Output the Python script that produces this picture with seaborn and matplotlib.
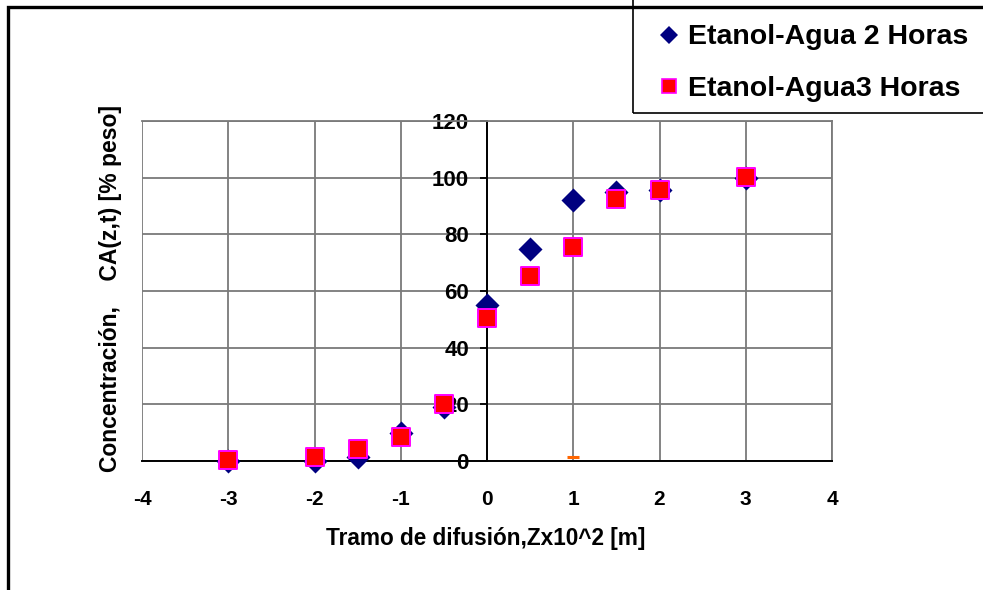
import matplotlib
matplotlib.use("Agg")
import matplotlib.pyplot as plt
import seaborn as sns
import pandas as pd
from matplotlib.patches import Rectangle
from matplotlib.lines import Line2D

# ---- data ----
tramo = [-3, -2, -1.5, -1, -0.5, 0, 0.5, 1, 1.5, 2, 3]
horas2 = [0, 0, 1.5, 10, 19, 55, 75, 92, 95, 95.5, 100]
horas3 = [0.5, 1.5, 4.2, 8.6, 20, 50.5, 65.3, 75.5, 92.5, 95.8, 100.3]
extra_x = [1]
extra_y = [1.5]
label2 = "Etanol-Agua 2 Horas"
label3 = "Etanol-Agua3 Horas"
x_ticks = [-4, -3, -2, -1, 0, 1, 2, 3, 4]
y_ticks = [0, 20, 40, 60, 80, 100, 120]
xlabel = "Tramo de difusión,Zx10^2 [m]"
ylabel = "Concentración,    CA(z,t) [% peso]"

sns.set_style("white")
plt.rcParams['font.family'] = ['Liberation Sans', 'DejaVu Sans']
plt.rcParams['font.weight'] = 'bold'
plt.rcParams['axes.unicode_minus'] = False

W, H = 983, 590
fig = plt.figure(figsize=(W / 100, H / 100), dpi=100)
ax = fig.add_axes([142 / W, 1 - 461 / H, 690 / W, 340 / H])

df2 = pd.DataFrame({"x": tramo, "y": horas2})
df3 = pd.DataFrame({"x": tramo, "y": horas3})
dfe = pd.DataFrame({"x": extra_x, "y": extra_y})

sns.scatterplot(data=df2, x="x", y="y", ax=ax, marker="D", s=150, color="#000080",
                edgecolor="#000080", linewidth=0, clip_on=False, zorder=3, legend=False)
sns.scatterplot(data=df3, x="x", y="y", ax=ax, marker="s", s=175, color="#FF0000",
                edgecolor="#FF00FF", linewidth=1.4, clip_on=False, zorder=4, legend=False)
sns.scatterplot(data=dfe, x="x", y="y", ax=ax, marker="_", s=75, color="#FF6600",
                linewidth=2.2, clip_on=False, zorder=4, legend=False)

ax.set_xlim(-4, 4)
ax.set_ylim(0, 120)
ax.set_xticks(x_ticks)
ax.set_yticks(y_ticks)
ax.grid(True, color="#7a7a7a", linewidth=1.3)
ax.set_xlabel("")
ax.set_ylabel("")

ax.spines['left'].set_position(('data', 0))
for s in ['left', 'bottom']:
    ax.spines[s].set_color('black')
    ax.spines[s].set_linewidth(1.4)
for s in ['top', 'right']:
    ax.spines[s].set_color('#7a7a7a')
    ax.spines[s].set_linewidth(1.3)

ax.tick_params(axis='x', direction='out', length=5, width=1.3, color='black',
               labelsize=15, pad=16, labelcolor='black')
ax.tick_params(axis='y', direction='out', length=5, width=1.3, color='black',
               labelsize=16, pad=8, left=True, labelcolor='black')
for t in ax.get_xticklabels() + ax.get_yticklabels():
    t.set_fontweight('bold')

fig.text(486 / W, 1 - 539 / H, xlabel, ha='center', va='center',
         fontsize=16.3, fontweight='bold', color='black')
fig.text(111 / W, 1 - 289 / H, ylabel, ha='center', va='center', rotation=90,
         fontsize=16.5, fontweight='bold', color='black')

# legend
handles = [
    Line2D([], [], linestyle='none', marker='D', markersize=9, color='#000080',
           markeredgewidth=0),
    Line2D([], [], linestyle='none', marker='s', markersize=10, color='#FF0000',
           markeredgecolor='#FF00FF', markeredgewidth=1.2),
]
leg = fig.legend(handles, [label2, label3], loc='center left',
                 bbox_to_anchor=(655 / W, 1 - 63 / H), bbox_transform=fig.transFigure,
                 frameon=False, borderpad=0, borderaxespad=0, handlelength=1.0,
                 handletextpad=0.15, labelspacing=0.88,
                 prop={'size': 20.5, 'weight': 'bold'})
for t in leg.get_texts():
    t.set_color('black')
fig.add_artist(Rectangle((633 / W, 1 - 113 / H), 0.5, 0.5, transform=fig.transFigure,
                         fill=False, edgecolor='black', linewidth=1.2))

# outer border
fig.add_artist(Rectangle((8 / W, -0.2), 1.2, 1.2 - 6.5 / H, transform=fig.transFigure,
                         fill=False, edgecolor='black', linewidth=2.4))

fig.savefig("out.png", dpi=100)
